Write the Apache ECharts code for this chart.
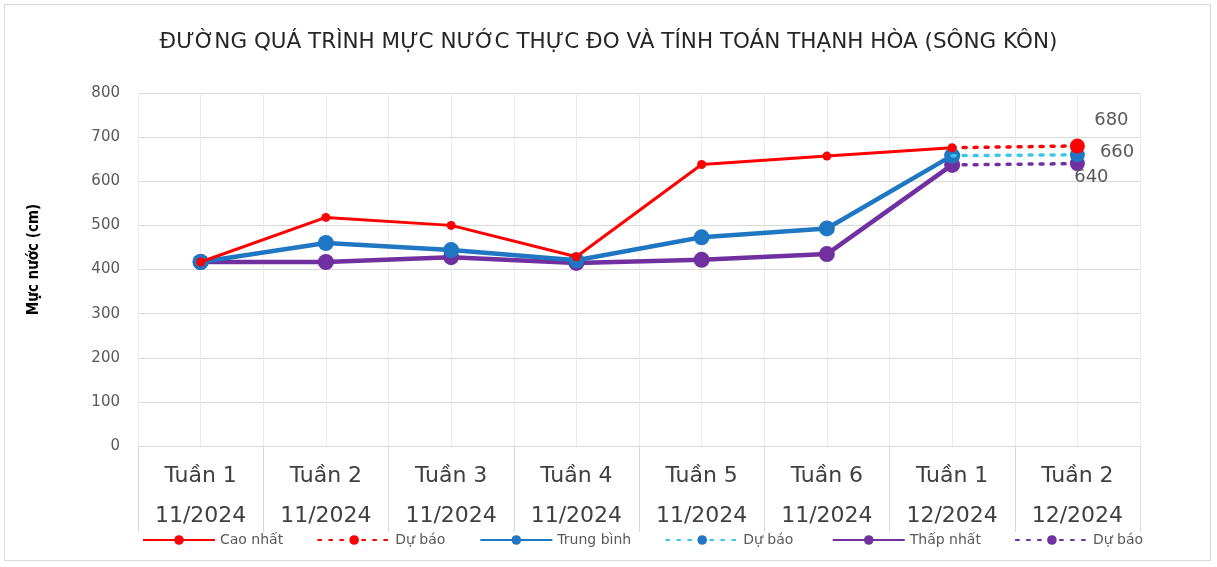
<!DOCTYPE html>
<html><head><meta charset="utf-8">
<script src="https://cdn.jsdelivr.net/npm/echarts@6/dist/echarts.min.js"></script>
<style>
html,body{margin:0;padding:0;background:#fff;}
#frame{position:absolute;left:4px;top:4px;width:1207px;height:557px;border:1px solid #d9d9d9;box-sizing:border-box;}
#c{position:absolute;left:0;top:0;width:1217px;height:567px;}
</style></head>
<body><div id="frame"></div><div id="c"></div>
<script>
const titleText = 'ĐƯỜNG QUÁ TRÌNH MỰC NƯỚC THỰC ĐO VÀ TÍNH TOÁN THẠNH HÒA (SÔNG KÔN)';
const yAxisName = 'Mực nước (cm)';
const weeks = ['Tuần 1','Tuần 2','Tuần 3','Tuần 4','Tuần 5','Tuần 6','Tuần 1','Tuần 2'];
const months = ['11/2024','11/2024','11/2024','11/2024','11/2024','11/2024','12/2024','12/2024'];
const caoNhat   = [417, 518, 500, 429, 638, 657, 676, null];
const trungBinh = [417, 460, 444, 421, 473, 493, 658, null];
const thapNhat  = [417, 417, 428, 415, 422, 435, 637, null];
const duBaoCao  = [null, null, null, null, null, null, 676, 680];
const duBaoTB   = [null, null, null, null, null, null, 658, 660];
const duBaoThap = [null, null, null, null, null, null, 637, 640];
const yTicks = {min: 0, max: 800, interval: 100};

const categories = weeks.map((w, i) => w + '\n\n' + months[i]);
const RED = '#ff0000', BLUE = '#1f77c4', CYAN = '#3ec6e8', PURPLE = '#7030a0';
const FONT = 'DejaVu Sans';
const CFONT = 'DejaVu Sans Condensed, DejaVu Sans';

function fc(arr) {
  return arr.map((v, i) => {
    if (v == null) return null;
    if (i === arr.length - 1) return v;
    return {value: v, symbol: 'none'};
  });
}

const chart = echarts.init(document.getElementById('c'));
const lbl = (pos, off) => ({show: true, position: pos, offset: off, color: '#595959', fontSize: 18,
  fontFamily: FONT, formatter: p => (p.dataIndex === 7 ? p.value : '')});
chart.setOption({
  animation: false,
  title: {text: titleText, left: 'center', top: 26,
    textStyle: {fontSize: 21.5, fontWeight: 'normal', color: '#262626', fontFamily: FONT}},
  grid: {left: 138, right: 77, top: 93, bottom: 121, containLabel: false},
  legend: {bottom: 15, left: 137, itemWidth: 72, itemHeight: 12, itemGap: 34,
    textStyle: {fontSize: 14, color: '#595959', fontFamily: FONT},
    data: [
      {name: 'Cao nhất'}, {name: 'Dự báo'}, {name: 'Trung bình'}, {name: 'Dự báo '}, {name: 'Thấp nhất'}, {name: 'Dự báo  '}
    ]},
  xAxis: [{
    type: 'category', data: categories, boundaryGap: true,
    axisLine: {lineStyle: {color: '#d9d9d9'}},
    axisTick: {show: true, length: 86, lineStyle: {color: '#d9d9d9'}},
    axisLabel: {fontSize: 22, color: '#404040', lineHeight: 20, margin: 20, fontFamily: FONT},
    splitLine: {show: false}
  }, {
    type: 'value', min: 0, max: 8, interval: 0.5, show: true,
    axisLine: {show: false}, axisTick: {show: false}, axisLabel: {show: false},
    splitLine: {show: true, lineStyle: {color: '#ececec'}}
  }],
  yAxis: {
    type: 'value', min: yTicks.min, max: yTicks.max, interval: yTicks.interval,
    name: yAxisName, nameLocation: 'middle', nameGap: 96, nameRotate: 90,
    nameTextStyle: {fontSize: 15, color: '#000', fontWeight: 'bold', fontFamily: CFONT, padding: [0, 0, 0, 20]},
    axisLine: {show: false}, axisTick: {show: false},
    axisLabel: {fontSize: 15, color: '#595959', margin: 18, fontFamily: FONT},
    splitLine: {lineStyle: {color: '#d9d9d9'}}
  },
  series: [
    {name: 'Cao nhất', type: 'line', data: caoNhat, color: RED, symbol: 'circle', symbolSize: 9,
     lineStyle: {width: 3}, z: 5},
    {name: 'Trung bình', type: 'line', data: trungBinh, color: BLUE, symbol: 'circle', symbolSize: 16,
     lineStyle: {width: 4.5}, z: 4},
    {name: 'Thấp nhất', type: 'line', data: thapNhat, color: PURPLE, symbol: 'circle', symbolSize: 16,
     lineStyle: {width: 4.5}, z: 3},
    {name: 'Dự báo', type: 'line', data: fc(duBaoCao), color: RED, symbol: 'circle', symbolSize: 15,
     lineStyle: {width: 3.5, type: [3, 8], cap: 'round'}, z: 6, label: lbl('top', [34, -4])},
    {name: 'Dự báo ', type: 'line', data: fc(duBaoTB), color: BLUE, symbol: 'circle', symbolSize: 15,
     lineStyle: {width: 3.5, type: [3, 8], color: CYAN, cap: 'round'}, z: 5, label: lbl('right', [10, -2])},
    {name: 'Dự báo  ', type: 'line', data: fc(duBaoThap), color: PURPLE, symbol: 'circle', symbolSize: 15,
     lineStyle: {width: 3.5, type: [3, 8], cap: 'round'}, z: 4, label: lbl('bottom', [14, -8])}
  ]
});
</script></body></html>
